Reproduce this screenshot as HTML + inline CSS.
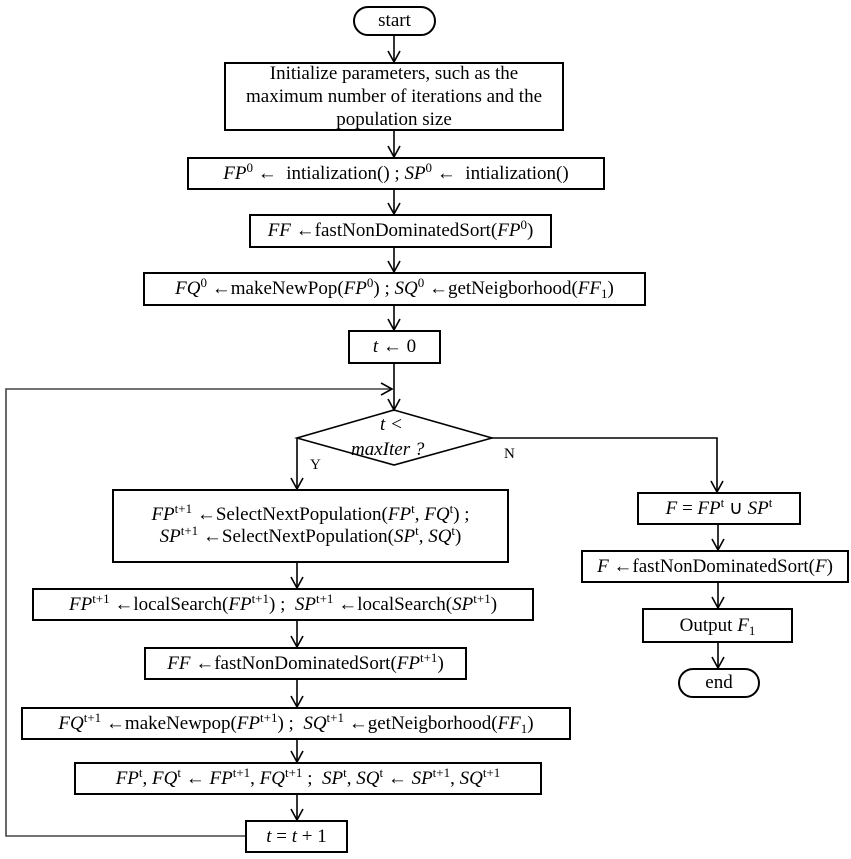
<!DOCTYPE html>
<html><head><meta charset="utf-8"><style>
body{margin:0;background:#fff;width:851px;height:859px;position:relative;overflow:hidden;font-family:"Liberation Serif",serif;color:#000}
.b{position:absolute;box-sizing:border-box;border:2px solid #000;display:flex;align-items:center;justify-content:center;text-align:center;font-size:19px;line-height:22px;white-space:nowrap;background:#fff}
.b>span{display:block}
.r{border-radius:16px/16px}
i{font-style:italic}
sup{font-size:13px;vertical-align:7px;line-height:0}
sub{font-size:13px;vertical-align:-4px;line-height:0}
.t{position:absolute;font-size:19px;white-space:nowrap}
svg{position:absolute;left:0;top:0}
</style></head><body>
<svg width="851" height="859" fill="none" stroke="#000" stroke-width="1.6">
<line x1="394" y1="36" x2="394" y2="62"/><polyline points="388,51 394,62 400,51"/>
<line x1="394" y1="131" x2="394" y2="157"/><polyline points="388,146 394,157 400,146"/>
<line x1="394" y1="190" x2="394" y2="214"/><polyline points="388,203 394,214 400,203"/>
<line x1="394" y1="248" x2="394" y2="272"/><polyline points="388,261 394,272 400,261"/>
<line x1="394" y1="306" x2="394" y2="330"/><polyline points="388,319 394,330 400,319"/>
<line x1="394" y1="364" x2="394" y2="410"/><polyline points="388,399 394,410 400,399"/>
<polyline points="245,836 6,836 6,389 392,389" stroke="#444"/><polyline points="381,383 392,389 381,395"/>
<polygon points="394,410 492,438 394,465 297,438"/>
<line x1="297" y1="438" x2="297" y2="489"/><polyline points="291,478 297,489 303,478"/>
<polyline points="492,438 717,438 717,492"/><polyline points="711,481 717,492 723,481"/>
<line x1="297" y1="563" x2="297" y2="588"/><polyline points="291,577 297,588 303,577"/>
<line x1="297" y1="621" x2="297" y2="647"/><polyline points="291,636 297,647 303,636"/>
<line x1="297" y1="680" x2="297" y2="707"/><polyline points="291,696 297,707 303,696"/>
<line x1="297" y1="740" x2="297" y2="762"/><polyline points="291,751 297,762 303,751"/>
<line x1="297" y1="795" x2="297" y2="820"/><polyline points="291,809 297,820 303,809"/>
<line x1="718" y1="525" x2="718" y2="550"/><polyline points="712,539 718,550 724,539"/>
<line x1="718" y1="583" x2="718" y2="608"/><polyline points="712,597 718,608 724,597"/>
<line x1="718" y1="643" x2="718" y2="668"/><polyline points="712,657 718,668 724,657"/>
</svg>
<div class="b r" style="left:353px;top:6px;width:83px;height:30px"><span>start</span></div>
<div class="b" style="left:224px;top:62px;width:340px;height:69px;line-height:23px"><span>Initialize parameters, such as the<br>maximum number of iterations and the<br>population size</span></div>
<div class="b" style="left:187px;top:157px;width:418px;height:33px"><span><i>FP</i><sup>0</sup> ←&nbsp; intialization() ;&nbsp;<i>SP</i><sup>0</sup> ←&nbsp; intialization()</span></div>
<div class="b" style="left:249px;top:214px;width:303px;height:34px"><span><i>FF</i> ←fastNonDominatedSort(<i>FP</i><sup>0</sup>)</span></div>
<div class="b" style="left:143px;top:272px;width:503px;height:34px"><span><i>FQ</i><sup>0</sup> ←makeNewPop(<i>FP</i><sup>0</sup>) ;&nbsp;<i>SQ</i><sup>0</sup> ←getNeigborhood(<i>FF</i><sub>1</sub>)</span></div>
<div class="b" style="left:348px;top:330px;width:93px;height:34px"><span><i>t</i> ← 0</span></div>
<div class="t" style="left:380px;top:414px;font-style:italic">t &lt;</div>
<div class="t" style="left:351px;top:439px;font-style:italic">maxIter ?</div>
<div class="t" style="left:310px;top:457px;font-size:15px">Y</div>
<div class="t" style="left:504px;top:446px;font-size:15px">N</div>
<div class="b" style="left:112px;top:489px;width:397px;height:74px;line-height:22px"><span><i>FP</i><sup>t+1</sup> ←SelectNextPopulation(<i>FP</i><sup>t</sup>, <i>FQ</i><sup>t</sup>) ;<br><i>SP</i><sup>t+1</sup> ←SelectNextPopulation(<i>SP</i><sup>t</sup>, <i>SQ</i><sup>t</sup>)</span></div>
<div class="b" style="left:32px;top:588px;width:502px;height:33px"><span><i>FP</i><sup>t+1</sup> ←localSearch(<i>FP</i><sup>t+1</sup>) ;&nbsp; <i>SP</i><sup>t+1</sup> ←localSearch(<i>SP</i><sup>t+1</sup>)</span></div>
<div class="b" style="left:144px;top:647px;width:323px;height:33px"><span><i>FF</i> ←fastNonDominatedSort(<i>FP</i><sup>t+1</sup>)</span></div>
<div class="b" style="left:21px;top:707px;width:550px;height:33px"><span><i>FQ</i><sup>t+1</sup> ←makeNewpop(<i>FP</i><sup>t+1</sup>) ;&nbsp; <i>SQ</i><sup>t+1</sup> ←getNeigborhood(<i>FF</i><sub>1</sub>)</span></div>
<div class="b" style="left:74px;top:762px;width:468px;height:33px"><span><i>FP</i><sup>t</sup>, <i>FQ</i><sup>t</sup> ← <i>FP</i><sup>t+1</sup>, <i>FQ</i><sup>t+1</sup> ;&nbsp; <i>SP</i><sup>t</sup>, <i>SQ</i><sup>t</sup> ← <i>SP</i><sup>t+1</sup>, <i>SQ</i><sup>t+1</sup></span></div>
<div class="b" style="left:245px;top:820px;width:103px;height:33px"><span><i>t</i> = <i>t</i> + 1</span></div>
<div class="b" style="left:637px;top:492px;width:164px;height:33px"><span><i>F</i> = <i>FP</i><sup>t</sup> ∪ <i>SP</i><sup>t</sup></span></div>
<div class="b" style="left:581px;top:550px;width:268px;height:33px"><span><i>F</i> ←fastNonDominatedSort(<i>F</i>)</span></div>
<div class="b" style="left:642px;top:608px;width:151px;height:35px"><span>Output <i>F</i><sub>1</sub></span></div>
<div class="b r" style="left:678px;top:668px;width:82px;height:30px"><span>end</span></div>
</body></html>
